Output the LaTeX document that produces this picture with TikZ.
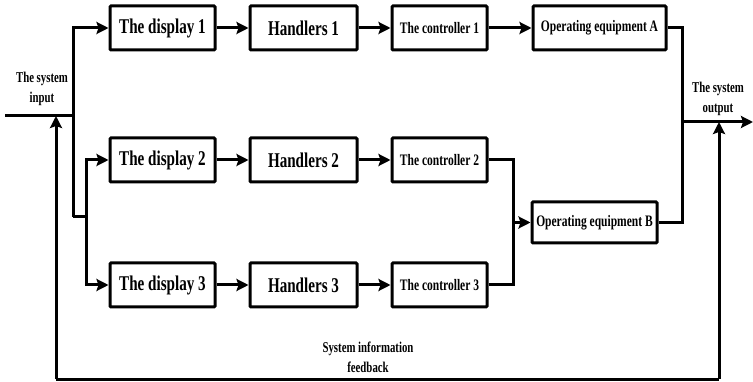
\documentclass[tikz,border=0pt]{standalone}
\usepackage{fontspec}
\setmainfont{Liberation Serif}[FakeStretch=0.72]
\usetikzlibrary{arrows.meta}
\begin{document}
\begin{tikzpicture}[x=1pt,y=-1pt,
  line width=3pt,
  blk/.style={draw, line width=3pt, rounded corners=1pt, inner sep=0pt, font=\bfseries\fontsize{21}{24}\selectfont, minimum height=44pt},
  blks/.style={blk, font=\bfseries\fontsize{16}{18}\selectfont},
  lbl/.style={font=\bfseries\fontsize{15}{20}\selectfont, align=center, inner sep=0pt},
  arr/.style={-{Stealth[length=12pt,width=12pt,inset=2pt]}}]
\useasboundingbox (0,0) rectangle (753,382);
% row 1
\node[blk, minimum width=105pt] (d1) at (162.5,28) {The display 1};
\node[blk, minimum width=107pt] (h1) at (303.5,28) {Handlers 1};
\node[blks, minimum width=95pt] (c1) at (439.5,28) {The controller 1};
\node[blks, minimum width=133pt] (A) at (599.5,28) {Operating equipment A};
% row 2
\node[blk, minimum width=105pt] (d2) at (162.5,160) {The display 2};
\node[blk, minimum width=107pt] (h2) at (303.5,160) {Handlers 2};
\node[blks, minimum width=95pt] (c2) at (439.5,160) {The controller 2};
% row 3
\node[blk, minimum width=105pt] (d3) at (162.5,285) {The display 3};
\node[blk, minimum width=107pt] (h3) at (303.5,285) {Handlers 3};
\node[blks, minimum width=95pt] (c3) at (439.5,285) {The controller 3};
% B
\node[blks, minimum width=125pt, minimum height=41pt] (B) at (594.5,222.5) {Operating equipment B};
% labels
\node[lbl] (tin) at (42,89) {The system\\input};
\node[lbl] (tout) at (718,99) {The system\\output};
\node[lbl] (tfb) at (368,357) {System information\\feedback};
% coordinates
\coordinate (in) at (5,116);
\coordinate (ji) at (73,116);
\coordinate (ja) at (73,217);
\coordinate (jb) at (86,217);
\coordinate (jm) at (513,222.5);
\coordinate (jo) at (682,122);
\coordinate (out) at (753,122);
\coordinate (fb1) at (56,379);
\coordinate (fb2) at (719,379);
\coordinate (fbin) at (56,116);
\coordinate (fbout) at (719,122);
% input
\draw (in) -- (ji);
\draw[arr] (ja) |- (d1.west);
\draw (ja) -- (jb);
\draw[arr] (jb) |- (d2.west);
\draw[arr] (jb) |- (d3.west);
% rows
\draw[arr] (d1) -- (h1);
\draw[arr] (h1) -- (c1);
\draw[arr] (c1) -- (A);
\draw[arr] (d2) -- (h2);
\draw[arr] (h2) -- (c2);
\draw[arr] (d3) -- (h3);
\draw[arr] (h3) -- (c3);
% merge
\draw (c2.east) -| (jm);
\draw (c3.east) -| (jm);
\draw[arr] (jm) -- (B.west);
% output
\draw (A.east) -| (jo);
\draw (B.east) -| (jo);
\draw[arr] (jo) -- (out);
% feedback
\draw (fb1) -- (fb2);
\draw[arr] (fb1) -- (fbin);
\draw[arr] (fb2) -- (fbout);
\end{tikzpicture}
\end{document}
